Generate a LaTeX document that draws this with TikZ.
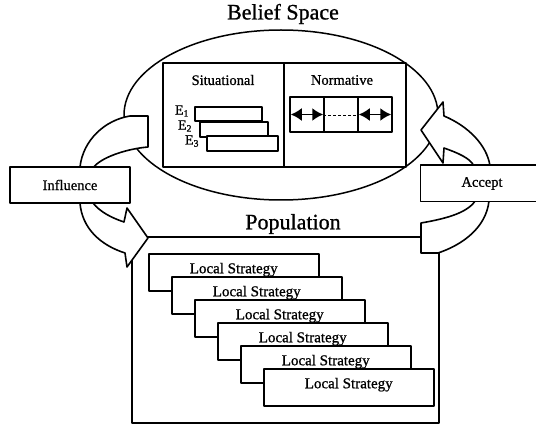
\documentclass[tikz,border=0pt]{standalone}
\usepackage{fontspec}
\setmainfont{Liberation Serif}[FakeBold=0.9]
\usetikzlibrary{shapes.geometric,arrows.meta}
\begin{document}
\begin{tikzpicture}[x=1pt,y=-1pt,line width=1.5pt,line join=round,
  box/.style={draw,fill=white,rectangle,inner sep=0pt},
  bigtitle/.style={font=\fontsize{22}{24}\selectfont,inner sep=0pt},
  lbl/.style={font=\fontsize{14.5}{16}\selectfont,inner sep=0pt},
  elbl/.style={font=\fontsize{14}{15}\selectfont,inner sep=0pt},
  ebox/.style={box,minimum height=14pt},
  cell/.style={draw,rectangle,inner sep=0pt,minimum width=34pt,minimum height=35pt},
  lsbox/.style={draw,fill=white,rectangle,inner xsep=0pt,inner ysep=2pt,
    minimum width=170pt,text height=17.5pt,text depth=15.5pt,anchor=north west,
    font=\fontsize{15}{16}\selectfont},
  dblarrow/.style={{Latex[length=11pt,width=13pt]}-{Latex[length=11pt,width=13pt]},line width=1.8pt},
  bigarrow/.style={draw,fill=white,line width=1.6pt}]
\useasboundingbox (0,0) rectangle (536,425);

% Belief space
\node[ellipse,draw,minimum width=314pt,minimum height=170pt,inner sep=0pt] (belief) at (281,115) {};
\node[bigtitle] (bstitle) at (283,14) {Belief Space};
\node[draw,rectangle,inner sep=0pt,minimum width=121pt,minimum height=104pt] (sit) at (223.5,115) {};
\node[draw,rectangle,inner sep=0pt,minimum width=122pt,minimum height=104pt] (norm) at (345,115) {};
\node[lbl] (sitlbl) at (223,80) {Situational};
\node[lbl] (normlbl) at (342,80) {Normative};

% situational experiences
\node[ebox,minimum width=67pt,minimum height=14pt] (e1) at (228.5,114) {};
\node[ebox,minimum width=68pt,minimum height=15pt] (e2) at (234,129.5) {};
\node[ebox,minimum width=71pt,minimum height=15pt] (e3) at (242.5,143.5) {};
\node[elbl] (e1l) at (182,111) {E\textsubscript{1}};
\node[elbl] (e2l) at (185,126) {E\textsubscript{2}};
\node[elbl] (e3l) at (192,141) {E\textsubscript{3}};

% normative cells
\node[cell] (c1) at (307,114.5) {};
\node[cell] (c2) at (341,114.5) {};
\node[cell] (c3) at (375,114.5) {};
\draw[dblarrow] ([xshift=1.5pt]c1.west) -- ([xshift=-1.5pt]c1.east);
\draw[dblarrow] ([xshift=1.5pt]c3.west) -- ([xshift=-1.5pt]c3.east);
\draw[densely dashed,line width=0.7pt] ([yshift=-1pt]c2.west) -- ([yshift=-1pt]c2.east);

% Population
\node[draw,rectangle,inner sep=0pt,minimum width=307pt,minimum height=186pt] (pop) at (285.5,330) {};
\node[bigtitle] (poptitle) at (293,224) {Population};
\node[lsbox] (ls1) at (148,253) {Local Strategy};
\node[lsbox] (ls2) at (171,276) {Local Strategy};
\node[lsbox] (ls3) at (194,299) {Local Strategy};
\node[lsbox] (ls4) at (217,322) {Local Strategy};
\node[lsbox] (ls5) at (240,345) {Local Strategy};
\node[lsbox] (ls6) at (263,368) {Local Strategy};

% Influence arrow
\path[bigarrow] (130,116) -- (148,116) -- (148,147)
  .. controls (125,149) and (100,158) .. (93,168) -- (93,203)
  .. controls (100,212) and (112,218) .. (124,222) -- (127,208) -- (148,238)
  -- (127,267) -- (125,253)
  .. controls (100,245) and (82,228) .. (80,203) -- (80,167)
  .. controls (83,140) and (105,120) .. (130,116) -- cycle;

% Accept arrow
\path[bigarrow] (421,223) -- (421,253) -- (438,253)
  .. controls (462,245) and (486,228) .. (489,201) -- (490,166)
  .. controls (487,145) and (468,126) .. (444,116) -- (443,102) -- (421,130)
  -- (443,163) -- (444,148)
  .. controls (458,153) and (470,158) .. (474,166) -- (476,200)
  .. controls (468,212) and (450,218) .. (421,223) -- cycle;

% boxes
\node[box,lbl,minimum width=120pt,minimum height=36pt] (infl) at (70,185) {Influence};
\node[fill=white,rectangle,inner sep=0pt,minimum width=115pt,minimum height=35pt] (acc) at (478.5,183.5) {};
\draw (acc.north east) -- (acc.north west) -- (acc.south west) -- (acc.south east);
\node[lbl] (acclbl) at (482,183.5) {Accept};
\end{tikzpicture}
\end{document}
